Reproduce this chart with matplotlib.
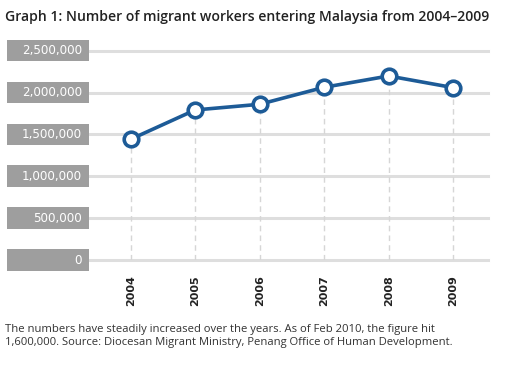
"""Line chart of migrant workers entering Malaysia, 2004-2009."""

from matplotlib import pyplot
from matplotlib import transforms
from matplotlib.patches import Rectangle


years = ['2004', '2005', '2006', '2007', '2008', '2009']
workers = [1442000, 1792000, 1860000, 2063000, 2198000, 2059000]
yticks = [0, 500000, 1000000, 1500000, 2000000, 2500000]
ytick_labels = ['0', '500,000', '1,000,000', '1,500,000', '2,000,000', '2,500,000']

title = 'Graph 1: Number of migrant workers entering Malaysia from 2004\u20132009'
note = ('The numbers have steadily increased over the years. As of Feb 2010, the figure hit\n'
        '1,600,000. Source: Diocesan Migrant Ministry, Penang Office of Human Development.')

blue = '#1d5b97'
W, H = 521, 375

pyplot.rcParams['font.family'] = ['Open Sans', 'DejaVu Sans']
fig = pyplot.figure(figsize=(W / 100, H / 100), dpi=100)

# Axes placed in pixel terms: x from 90 to 488, y from 260 (zero) to 50.7 (2.5M).
left, right = 90 / W, 488 / W
bottom, top = (H - 260) / H, (H - 50.7) / H
ax = fig.add_axes([left, bottom, right - left, top - bottom])
ax.set_ylim(0, 2500000)
ax.set_xlim(-0.63, 5.54)
for s in ax.spines.values():
    s.set_visible(False)

x = range(len(years))
for yv in yticks:
    ax.axhline(yv, color='#dedede', linewidth=2.2, zorder=1, clip_on=False)
for xi, yv in zip(x, workers):
    ax.plot([xi, xi], [0, yv], color='#d6d6d6', linewidth=1, linestyle=(0, (4, 3)), zorder=1)
ax.plot(x, workers, color=blue, linewidth=2.6, marker='o', markersize=10.5,
        markerfacecolor='white', markeredgecolor=blue, markeredgewidth=2.6,
        zorder=3, clip_on=False)

# Gray label boxes on the left.
trans = transforms.blended_transform_factory(fig.transFigure, ax.transData)
box_h = 258000
for yv, lab in zip(yticks, ytick_labels):
    ax.add_patch(Rectangle((7 / W, yv - box_h / 2), 82 / W, box_h, transform=trans,
                           facecolor='#9e9e9e', edgecolor='none', clip_on=False))
    ax.text(82 / W, yv, lab, transform=trans, ha='right', va='center',
            color='white', fontsize=8.6, family='DejaVu Sans')

ax.set_yticks([])
ax.set_xticks(list(x))
ax.set_xticklabels(years, rotation=90, fontsize=8, fontweight='bold', color='#222222',
                   family='DejaVu Sans')
ax.tick_params(axis='x', length=0, pad=11)

fig.text(5 / W, 1 - 17 / H, title, ha='left', va='center', fontsize=10.1,
         fontweight='semibold', color='#222222')
fig.text(5 / W, 1 - 336 / H, note, ha='left', va='center', fontsize=8.1,
         color='#333333', linespacing=1.3)

fig.savefig('out.png', dpi=100)
